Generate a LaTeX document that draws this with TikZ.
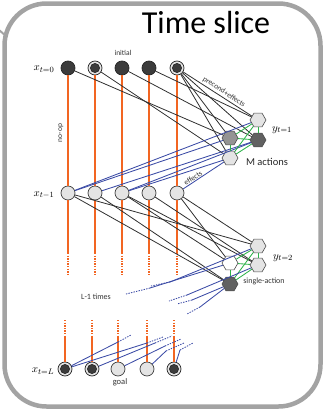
\documentclass[tikz,border=0pt]{standalone}
\usepackage{fontspec}
\setsansfont{Carlito}
\usetikzlibrary{shapes.geometric}
\definecolor{bordergray}{HTML}{A3A3A3}
\definecolor{orng}{HTML}{F26522}
\definecolor{blu}{HTML}{3B4BA6}
\definecolor{grn}{HTML}{2DB34A}
\definecolor{edgeblk}{HTML}{303030}
\definecolor{darkfill}{HTML}{3C3C3C}
\definecolor{lightfill}{HTML}{E4E4E4}
\begin{document}
\begin{tikzpicture}[x=1pt,y=-1pt,
  vdark/.style={circle,draw=black!85,fill=darkfill,minimum size=14pt,inner sep=0,line width=0.7pt},
  vlight/.style={circle,draw=black!75,fill=lightfill,minimum size=14pt,inner sep=0,line width=0.7pt},
  vdbl/.style={circle,draw=black!85,fill=lightfill,minimum size=14pt,inner sep=0,line width=0.7pt,
    path picture={\draw[black!85,fill=darkfill,line width=0.6pt] (path picture bounding box.center) circle (4.6pt);}},
  hexa/.style={regular polygon,regular polygon sides=6,minimum size=16pt,inner sep=0,draw=black!70,line width=0.6pt},
  blk/.style={draw=edgeblk,line width=0.8pt},
  bl/.style={draw=blu,line width=0.85pt},
  gr/.style={draw=grn,line width=0.85pt},
  og/.style={draw=orng,line width=1.8pt},
  dots/.style={dash pattern=on 1.4pt off 1.2pt},
  lbl/.style={font=\sffamily\fontsize{7.5}{8}\selectfont,inner sep=1pt,text=black!80},
  mlbl/.style={font=\fontsize{11}{12}\selectfont,inner sep=0}
]
\useasboundingbox (0,0) rectangle (326,413);
% free-end coordinates of the no-op lines
\coordinate (os1) at (68,253);  \coordinate (oe1) at (68,276);
\coordinate (os2) at (95,253);  \coordinate (oe2) at (95,276);
\coordinate (os3) at (122,253); \coordinate (oe3) at (122,276);
\coordinate (os4) at (149,253); \coordinate (oe4) at (149,276);
\coordinate (os5) at (177,253); \coordinate (oe5) at (177,276);
\coordinate (us1) at (65,320);  \coordinate (ue1) at (65,337);
\coordinate (us2) at (92,320);  \coordinate (ue2) at (92,337);
\coordinate (us3) at (118,320); \coordinate (ue3) at (118,337);
\coordinate (us4) at (147,320); \coordinate (ue4) at (147,337);
\coordinate (us5) at (174,320); \coordinate (ue5) at (174,337);
% frame
\draw[bordergray,line width=4.5pt,rounded corners=42pt] (4.5,3.5) rectangle (320.5,406.5);
\draw[bordergray,line width=2pt] (-1,30) -- (6,36);

% top row x_{t=0}
\node[vdark] (t1) at (68,68) {};
\node[vdbl]  (t2) at (95,68) {};
\node[vdark] (t3) at (122,68) {};
\node[vdark] (t4) at (149,68) {};
\node[vdbl]  (t5) at (177,68) {};
% middle row x_{t-1}
\node[vlight] (m1) at (68,193) {};
\node[vlight] (m2) at (95,193) {};
\node[vlight] (m3) at (122,193) {};
\node[vlight] (m4) at (149,193) {};
\node[vlight] (m5) at (177,193) {};
% bottom row x_{t=L}
\node[vdbl]   (b1) at (65,369) {};
\node[vdbl]   (b2) at (92,369) {};
\node[vlight] (b3) at (118,369) {};
\node[vlight] (b4) at (147,369) {};
\node[vdbl]   (b5) at (174,369) {};

% hexagons y_{t=1}
\node[hexa,fill=lightfill] (T1) at (258,120) {};
\node[hexa,fill=black!42]  (L1) at (230,138) {};
\node[hexa,fill=black!62]  (R1) at (258,140) {};
\node[hexa,fill=lightfill] (B1) at (230,158) {};
% hexagons y_{t=2}
\node[hexa,fill=lightfill] (T2) at (258,246) {};
\node[hexa,fill=white]     (L2) at (230,263) {};
\node[hexa,fill=lightfill] (R2) at (258,265) {};
\node[hexa,fill=black!62]  (B2) at (230,284) {};

% orange no-op lines
\draw[og] (t1) -- (m1); \draw[og] (m1) -- (os1); \draw[og,dots] (os1) -- (oe1);
\draw[og] (t2) -- (m2); \draw[og] (m2) -- (os2); \draw[og,dots] (os2) -- (oe2);
\draw[og] (t3) -- (m3); \draw[og] (m3) -- (os3); \draw[og,dots] (os3) -- (oe3);
\draw[og] (t4) -- (m4); \draw[og] (m4) -- (os4); \draw[og,dots] (os4) -- (oe4);
\draw[og] (t5) -- (m5); \draw[og] (m5) -- (os5); \draw[og,dots] (os5) -- (oe5);
\draw[og,dots] (us1) -- (ue1); \draw[og] (ue1) -- (b1);
\draw[og,dots] (us2) -- (ue2); \draw[og] (ue2) -- (b2);
\draw[og,dots] (us3) -- (ue3); \draw[og] (ue3) -- (b3);
\draw[og,dots] (us4) -- (ue4); \draw[og] (ue4) -- (b4);
\draw[og,dots] (us5) -- (ue5); \draw[og] (ue5) -- (b5);
% black: x_{t=0} -> y_{t=1}
\draw[blk] (t1) -- (L1);
\draw[blk] (t2) -- (B1);
\draw[blk] (t3) -- (R1);
\draw[blk] (t4) -- (T1);
\draw[blk] (t5) -- (T1);
\draw[blk] (t5) -- (R1);
\draw[blk] (t5) -- (L1);
\draw[blk] (t5) -- (B1);
% blue: y_{t=1} -> x_{t-1}
\draw[bl] (m1) -- (T1);
\draw[bl] (m1) -- (L1);
\draw[bl] (m2) -- (R1);
\draw[bl] (m3) -- (B1);
\draw[bl] (m3) -- (R1);
\draw[bl] (m5) -- (B1);
% green mutex y_{t=1}
\foreach \a/\b in {T1/L1,T1/R1,T1/B1,L1/R1,L1/B1,R1/B1}{\draw[gr] (\a) -- (\b);}
% black: x_{t-1} -> y_{t=2}
\draw[blk] (m1) -- (T2);
\draw[blk] (m1) -- (B2);
\draw[blk] (m2) -- (B2);
\draw[blk] (m3) -- (R2);
\draw[blk] (m3) -- (L2);
\draw[blk] (m5) -- (T2);
\draw[blk] (m5) -- (L2);
\draw[blk] (m4) -- (R2);
% green mutex y_{t=2}
\foreach \a/\b in {T2/L2,T2/R2,T2/B2,L2/R2,L2/B2,R2/B2}{\draw[gr] (\a) -- (\b);}
% blue: y_{t=2} -> next (dotted ends)
\coordinate (p1) at (150,288); \coordinate (q1) at (126,294);
\coordinate (p2) at (170,282); \coordinate (q2) at (151,286);
\coordinate (p3) at (187,295); \coordinate (q3) at (169,301);
\coordinate (p4) at (192,300); \coordinate (q4) at (177,304);
\coordinate (p5) at (200,307); \coordinate (q5) at (187,314);
\draw[bl] (L2) -- (p1); \draw[bl,dots] (p1) -- (q1);
\draw[bl] (T2) -- (p2); \draw[bl,dots] (p2) -- (q2);
\draw[bl] (R2) -- (p3); \draw[bl,dots] (p3) -- (q3);
\draw[bl] (B2) -- (p4); \draw[bl,dots] (p4) -- (q4);
\draw[bl] (B2) -- (p5); \draw[bl,dots] (p5) -- (q5);
% blue: x_{t=L} -> previous (dotted ends)
\coordinate (r1) at (118,342); \coordinate (s1) at (131,335);
\coordinate (r2) at (147,343); \coordinate (s2) at (163,337);
\coordinate (r3) at (155,343); \coordinate (s3) at (172,336);
\coordinate (r4) at (165,346); \coordinate (s4) at (181,339);
\coordinate (r5) at (166,351); \coordinate (s5) at (184,343);
\coordinate (r6) at (180,350); \coordinate (s6) at (193,343);
\draw[bl] (b1) -- (r1); \draw[bl,dots] (r1) -- (s1);
\draw[bl] (b1) -- (r2); \draw[bl,dots] (r2) -- (s2);
\draw[bl] (b2) -- (r3); \draw[bl,dots] (r3) -- (s3);
\draw[bl] (b3) -- (r4); \draw[bl,dots] (r4) -- (s4);
\draw[bl] (b4) -- (r5); \draw[bl,dots] (r5) -- (s5);
\draw[bl] (b5) -- (r6); \draw[bl,dots] (r6) -- (s6);

% texts
\node[font=\sffamily\fontsize{32}{34}\selectfont,inner sep=0] (title) at (206,23) {Time slice};
\node[mlbl] (lx0) at (44,69) {$x_{t=0}$};
\node[mlbl] (lx1) at (44,195) {$x_{t-1}$};
\node[mlbl] (lxL) at (43,371) {$x_{t=L}$};
\node[mlbl] (ly1) at (282,130) {$y_{t=1}$};
\node[mlbl] (ly2) at (283,258) {$y_{t=2}$};
\node[lbl] (linit) at (123,53) {initial};
\node[lbl,rotate=90] (lnoop) at (61,133) {no-op};
\node[lbl,rotate=-33.3] (lpe) at (224,92) {precond+effects};
\node[lbl,rotate=33] (leff) at (193,178) {effects};
\node[font=\sffamily\fontsize{10.5}{11}\selectfont,inner sep=0,text=black!85] (lmact) at (267,162) {M actions};
\node[lbl,font=\sffamily\fontsize{8}{9}\selectfont] (lsingle) at (264,281) {single-action};
\node[lbl,font=\sffamily\fontsize{8}{9}\selectfont] (lL) at (96,297) {L-1 times};
\node[lbl,font=\sffamily\fontsize{8.5}{9}\selectfont] (lgoal) at (120,382) {goal};
\end{tikzpicture}
\end{document}
